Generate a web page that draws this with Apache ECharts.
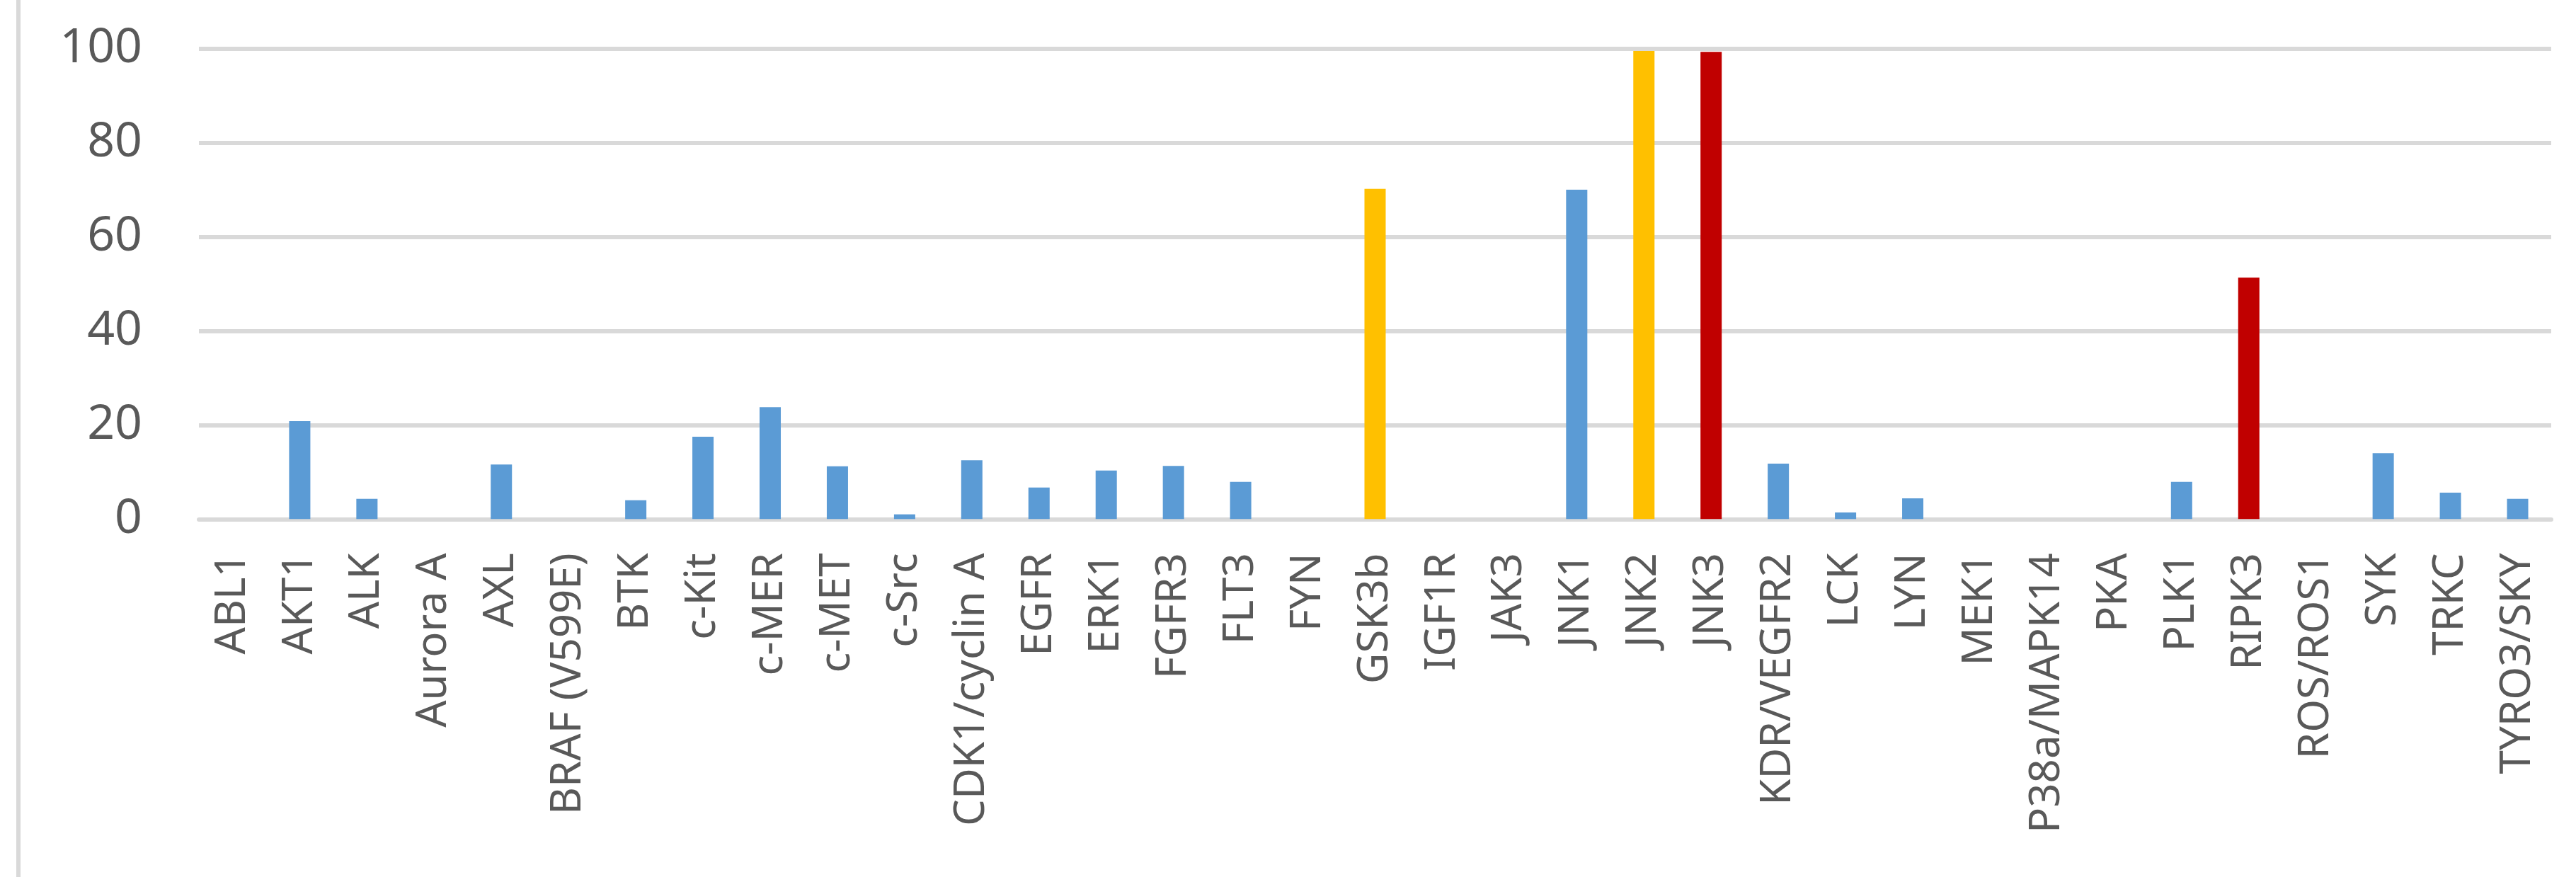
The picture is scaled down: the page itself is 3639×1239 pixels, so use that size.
<!DOCTYPE html>
<html>
<head>
<meta charset="utf-8">
<script src="https://cdn.jsdelivr.net/npm/echarts@6/dist/echarts.min.js"></script>
<style>
html,body{margin:0;padding:0;background:#fff;}
#chart{width:3639px;height:1239px;}
</style>
</head>
<body>
<div id="chart"></div>
<script>
const categories = ['ABL1','AKT1','ALK','Aurora A','AXL','BRAF (V599E)','BTK','c-Kit','c-MER','c-MET','c-Src','CDK1/cyclin A','EGFR','ERK1','FGFR3','FLT3','FYN','GSK3b','IGF1R','JAK3','JNK1','JNK2','JNK3','KDR/VEGFR2','LCK','LYN','MEK1','P38a/MAPK14','PKA','PLK1','RIPK3','ROS/ROS1','SYK','TRKC','TYRO3/SKY'];
const values = [0,20.8,4.3,0,11.6,0,4.0,17.5,23.8,11.2,1.0,12.5,6.7,10.3,11.3,7.9,0,70.2,0,0,70.0,99.5,99.3,11.8,1.4,4.4,0,0,0,7.9,51.3,0,14.0,5.6,4.3];
const goldGroup = ['GSK3b','JNK2'];
const redGroup = ['JNK3','RIPK3'];
const yTicks = [0,20,40,60,80,100];

const chart = echarts.init(document.getElementById('chart'));
const fontFamily = '"Noto Sans", "Open Sans", sans-serif';
chart.setOption({
  animation: false,
  backgroundColor: '#ffffff',
  graphic: [{
    type: 'rect', left: 23, top: 0,
    shape: {width: 6, height: 1239},
    style: {fill: '#d9d9d9'}
  }],
  grid: {left: 281, right: 35, top: 68.7, bottom: 505.7, containLabel: false},
  xAxis: {
    type: 'category',
    data: categories,
    axisLine: {show: true, lineStyle: {color: '#d9d9d9', width: 6}},
    axisTick: {show: false},
    axisLabel: {rotate: 90, interval: 0, margin: 48, color: '#595959', fontSize: 60, fontFamily: fontFamily}
  },
  yAxis: {
    type: 'value',
    min: yTicks[0], max: yTicks[yTicks.length - 1], interval: 20,
    axisLine: {show: false},
    axisTick: {show: false},
    splitLine: {lineStyle: {color: '#d9d9d9', width: 6}},
    axisLabel: {margin: 80, color: '#595959', fontSize: 68, fontFamily: fontFamily}
  },
  series: [{
    type: 'bar',
    data: values.map((v, i) => ({
      value: v,
      itemStyle: {color: goldGroup.includes(categories[i]) ? '#ffc000' : (redGroup.includes(categories[i]) ? '#c00000' : '#5b9bd5')}
    })),
    barWidth: 30
  }]
});
</script>
</body>
</html>
